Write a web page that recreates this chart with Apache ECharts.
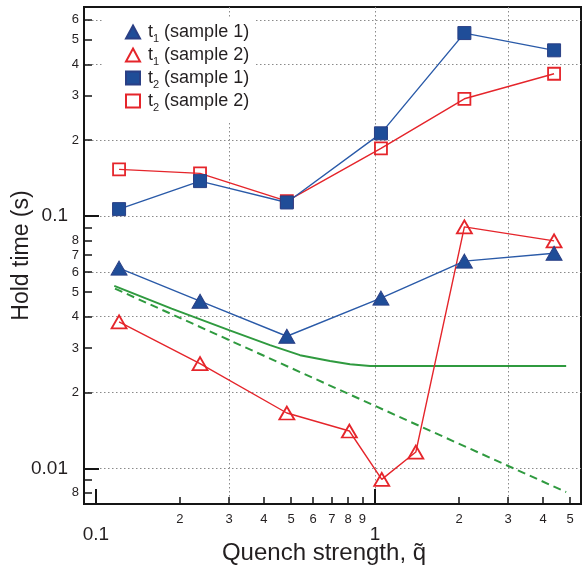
<!DOCTYPE html>
<html>
<head>
<meta charset="utf-8">
<script src="https://cdn.jsdelivr.net/npm/echarts@6/dist/echarts.min.js"></script>
<style>
html,body{margin:0;padding:0;background:#fff;overflow:hidden;}
#c{width:583px;height:565px;}
</style>
</head>
<body>
<div id="c"></div>
<script>
// ---- data ----
const qSample = [0.121, 0.236, 0.483, 1.05, 2.09, 4.38];
const t1Sample1 = [0.0622, 0.046, 0.0334, 0.0473, 0.0663, 0.0713];
const t2Sample1 = [0.1066, 0.1377, 0.1133, 0.213, 0.532, 0.4545];
const t2Sample2 = [0.1532, 0.1477, 0.1147, 0.1856, 0.292, 0.367];
const qT1Sample2 = [0.121, 0.236, 0.483, 0.809, 1.057, 1.40, 2.09, 4.38];
const t1Sample2 = [0.0381, 0.026, 0.01657, 0.01406, 0.00904, 0.0116, 0.0907, 0.0798];
const qModel = [0.1163, 0.1867, 0.2997, 0.4204, 0.5384, 0.6897, 0.8137, 0.9596, 4.84];
const tModel = [0.0529, 0.0430, 0.0353, 0.0308, 0.0281, 0.02666, 0.02587, 0.02547, 0.02547];
const qPower = [0.117, 4.84];
const tPower = [0.0516, 0.00805];

const xMinorTicks = [0.2, 0.3, 0.4, 0.5, 0.6, 0.7, 0.8, 0.9, 2, 3, 4, 5];
const xMajorTicks = [0.1, 1];
const xGrid = [0.3, 1, 3];
const yMinorTicks = [0.008, 0.009, 0.02, 0.03, 0.04, 0.05, 0.06, 0.07, 0.08, 0.09, 0.2, 0.3, 0.4, 0.5, 0.6];
const yMinorLabels = [0.008, 0.02, 0.03, 0.04, 0.05, 0.06, 0.07, 0.08, 0.2, 0.3, 0.4, 0.5, 0.6];
const yMajorTicks = [0.01, 0.1];
const yGrid = [0.01, 0.02, 0.04, 0.06, 0.1, 0.2, 0.4, 0.6];

const seriesNames = ['t1 (sample 1)', 't1 (sample 2)', 't2 (sample 1)', 't2 (sample 2)'];

const X_MIN = 0.0906, X_MAX = 5.47, Y_MIN = 0.00722, Y_MAX = 0.675;
const FONT = "'Liberation Sans', Arial, sans-serif";
const TXT = '#231f20';
const BLUE = '#2a5aa8', BLUE_FILL = '#1f4d98', RED = '#e5252b', GREEN = '#2f9a3f';

function pairs(xs, ys) { return xs.map((x, i) => [x, ys[i]]); }
function lead(v) { return String(Math.round(v / Math.pow(10, Math.floor(Math.log10(v) + 1e-9)))); }

const baseX = { type: 'log', logBase: 10, min: X_MIN, max: X_MAX, gridIndex: 0, position: 'bottom' };
const baseY = { type: 'log', logBase: 10, min: Y_MIN, max: Y_MAX, gridIndex: 0, position: 'left' };
const gridLine = { show: true, lineStyle: { color: '#8a8a8a', width: 1, type: [1.5, 2.5] } };

const chart = echarts.init(document.getElementById('c'), null, { renderer: 'canvas' });
chart.setOption({
  animation: false,
  backgroundColor: '#fff',
  grid: { left: 84, right: 2, top: 7, bottom: 61, show: true, borderColor: '#151515', borderWidth: 2,
          backgroundColor: 'transparent', containLabel: false, outerBoundsMode: 'none' },
  legend: {
    orient: 'vertical', left: 103, top: 19,
    itemWidth: 14, itemHeight: 13, itemGap: 2,
    backgroundColor: '#fff', padding: [4, 6, 10, 22],
    data: [
      { name: seriesNames[0], icon: 'triangle' },
      { name: seriesNames[1], icon: 'triangle' },
      { name: seriesNames[2], icon: 'rect' },
      { name: seriesNames[3], icon: 'rect' }
    ],
    formatter: function (name) {
      const m = name.match(/^t(\d) (.*)$/);
      return '{f|t}{s|' + m[1] + '}{t| ' + m[2] + '}';
    },
    textStyle: {
      fontFamily: FONT, fontSize: 18, color: TXT,
      rich: {
        f: { fontFamily: FONT, fontSize: 18, color: TXT, lineHeight: 18, verticalAlign: 'middle', padding: [0, 0, 0, 3] },
        t: { fontFamily: FONT, fontSize: 18, color: TXT, lineHeight: 18, verticalAlign: 'middle' },
        s: { fontFamily: FONT, fontSize: 11, color: TXT, lineHeight: 18, verticalAlign: 'bottom', padding: [0, 0, -3, 0] }
      }
    }
  },
  xAxis: [
    Object.assign({}, baseX, {
      name: 'Quench strength, q\u0303', nameLocation: 'middle', nameGap: 37,
      nameTextStyle: { fontFamily: FONT, fontSize: 24, color: TXT, padding: [0, 0, 0, -17] },
      axisLine: { show: true, lineStyle: { color: '#151515', width: 2 } },
      axisTick: { show: true, inside: true, length: 7, lineStyle: { color: '#151515', width: 1.5 }, customValues: xMinorTicks },
      axisLabel: { show: true, margin: 9, fontFamily: FONT, fontSize: 13, color: TXT, customValues: xMinorTicks, formatter: lead },
      splitLine: { show: false }
    }),
    Object.assign({}, baseX, {
      axisLine: { show: false },
      axisTick: { show: true, inside: true, length: 15, lineStyle: { color: '#151515', width: 2 }, customValues: xMajorTicks },
      axisLabel: { show: true, margin: 21, fontFamily: FONT, fontSize: 19, color: TXT, customValues: xMajorTicks, formatter: v => (v < 0.5 ? '0.1' : '1') },
      splitLine: { show: false }
    }),
    Object.assign({}, baseX, {
      axisLine: { show: false },
      axisTick: { show: false, customValues: xGrid },
      axisLabel: { show: false },
      splitLine: gridLine
    })
  ],
  yAxis: [
    Object.assign({}, baseY, {
      name: 'Hold time (s)', nameLocation: 'middle', nameGap: 51,
      nameTextStyle: { fontFamily: FONT, fontSize: 23, color: TXT },
      axisLine: { show: true, lineStyle: { color: '#151515', width: 2 } },
      axisTick: { show: true, inside: true, length: 8, lineStyle: { color: '#151515', width: 1.5 }, customValues: yMinorTicks },
      axisLabel: { show: true, margin: 5, fontFamily: FONT, fontSize: 13, color: TXT, customValues: yMinorLabels, formatter: lead },
      splitLine: { show: false }
    }),
    Object.assign({}, baseY, {
      axisLine: { show: false },
      axisTick: { show: true, inside: true, length: 15, lineStyle: { color: '#151515', width: 2 }, customValues: yMajorTicks },
      axisLabel: { show: true, margin: 16, fontFamily: FONT, fontSize: 19, color: TXT, customValues: yMajorTicks, formatter: v => (v > 0.05 ? '0.1' : '0.01') },
      splitLine: { show: false }
    }),
    Object.assign({}, baseY, {
      axisLine: { show: false },
      axisTick: { show: false, customValues: yGrid },
      axisLabel: { show: false },
      splitLine: gridLine
    })
  ],
  series: [
    { type: 'line', name: 'model', data: pairs(qModel, tModel), showSymbol: false, symbol: 'none',
      lineStyle: { color: GREEN, width: 2 }, z: 2 },
    { type: 'line', name: 'power', data: pairs(qPower, tPower), showSymbol: false, symbol: 'none',
      lineStyle: { color: GREEN, width: 2, type: [8, 5] }, z: 2 },
    { type: 'line', name: seriesNames[3], data: pairs(qSample, t2Sample2), symbol: 'rect', symbolSize: 12,
      lineStyle: { color: RED, width: 1.4 }, itemStyle: { color: 'rgba(255,255,255,0)', borderColor: RED, borderWidth: 1.8 }, z: 3 },
    { type: 'line', name: seriesNames[2], data: pairs(qSample, t2Sample1), symbol: 'rect', symbolSize: 13,
      lineStyle: { color: BLUE, width: 1.4 }, itemStyle: { color: BLUE_FILL, borderColor: '#2a3f85', borderWidth: 1 }, z: 4 },
    { type: 'line', name: seriesNames[1], data: pairs(qT1Sample2, t1Sample2), symbol: 'triangle', symbolSize: [15, 13],
      lineStyle: { color: RED, width: 1.4 }, itemStyle: { color: 'rgba(255,255,255,0)', borderColor: RED, borderWidth: 1.8 }, z: 3 },
    { type: 'line', name: seriesNames[0], data: pairs(qSample, t1Sample1), symbol: 'triangle', symbolSize: [16, 14],
      lineStyle: { color: BLUE, width: 1.4 }, itemStyle: { color: BLUE_FILL, borderColor: '#2a3f85', borderWidth: 1 }, z: 4 }
  ]
});
</script>
</body>
</html>
